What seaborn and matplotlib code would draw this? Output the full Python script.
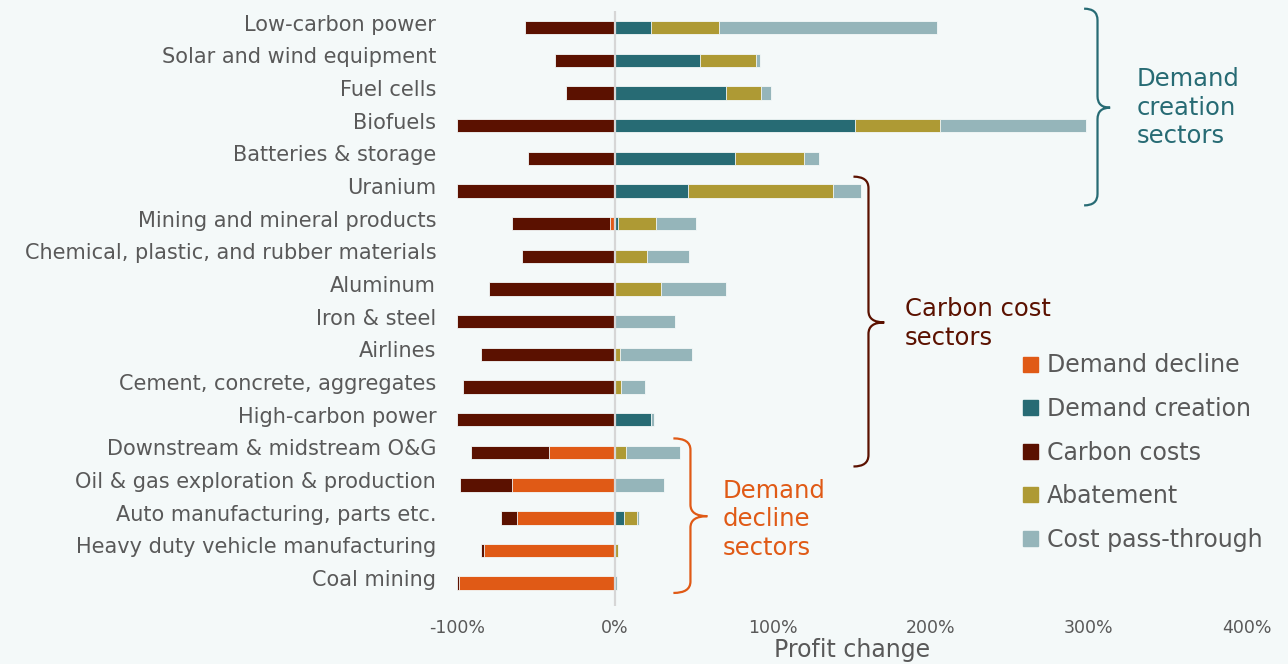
import numpy as np
import pandas as pd
import matplotlib
matplotlib.use('Agg')
import matplotlib.pyplot as plt
import matplotlib.transforms as mtransforms
import seaborn as sns
from matplotlib.path import Path
from matplotlib.patches import PathPatch, Patch

# data (profit change in %)
sectors = ['Low-carbon power', 'Solar and wind equipment', 'Fuel cells', 'Biofuels',
           'Batteries & storage', 'Uranium', 'Mining and mineral products',
           'Chemical, plastic, and rubber materials', 'Aluminum', 'Iron & steel',
           'Airlines', 'Cement, concrete, aggregates', 'High-carbon power',
           'Downstream & midstream O&G', 'Oil & gas exploration & production',
           'Auto manufacturing, parts etc.', 'Heavy duty vehicle manufacturing',
           'Coal mining']
demand_decline = [0, 0, 0, 0, 0, 0, -3, 0, 0, 0, 0, 0, 0, -42, -65, -62, -83, -99]
carbon_costs = [-57, -38, -31, -100, -55, -100, -62, -59, -80, -100, -85, -96, -100, -49, -33, -10, -2, -1]
demand_creation = [23, 54, 70, 152, 76, 46, 2, 0, 0, 0, 0, 0, 23, 0, 0, 6, 0, 0]
abatement = [43, 35, 22.5, 54, 44, 92, 24, 20, 29, 0, 3, 4, 0, 7, 0, 8, 2, 0]
pass_through = [138, 3, 6.5, 92, 9, 18, 25, 27, 41, 38, 46, 15, 2, 34, 31, 1.5, 0, 1]
tick_vals = [-100, 0, 100, 200, 300, 400]

C_DD = '#e05a16'
C_DC = '#276b74'
C_CC = '#5b1100'
C_AB = '#ae9a34'
C_PT = '#95b5ba'
TXT = '#595959'
BG = '#f4f9f9'

sns.set_theme(style='white')
plt.rcParams['font.family'] = ['DejaVu Sans']

df = pd.DataFrame({'sector': sectors, 'dd': demand_decline, 'cc': carbon_costs,
                   'dc': demand_creation, 'ab': abatement, 'pt': pass_through})
df['neg_total'] = df['dd'] + df['cc']
df['pos_dc_ab'] = df['dc'] + df['ab']
df['pos_total'] = df['pos_dc_ab'] + df['pt']

fig = plt.figure(figsize=(12.88, 6.64), dpi=100, facecolor=BG)
ax = fig.add_axes([0.3548, 0.0873, 0.968 - 0.3548, 0.983 - 0.0873])
ax.set_facecolor(BG)

bw = 0.41
# layered stacking: draw totals first, then inner segments on top
for col, c in [('neg_total', C_CC), ('dd', C_DD), ('pos_total', C_PT),
               ('pos_dc_ab', C_AB), ('dc', C_DC)]:
    sns.barplot(data=df, x=col, y='sector', order=sectors, color=c, width=bw,
                orient='h', saturation=1, edgecolor=BG, linewidth=0.6, ax=ax)

ax.axvline(0, color='#d6d6d6', lw=1.6, zorder=5)

ax.set_xlim(-100, 400)
ax.set_ylim(17.7, -0.5)
ax.set_xticks(tick_vals)
ax.set_xticklabels([f'{v}%' for v in tick_vals], color=TXT, fontsize=12.5)
ax.tick_params(axis='x', length=0, pad=9)
ax.tick_params(axis='y', length=0, pad=15, labelsize=15, labelcolor=TXT)
ax.set_ylabel('')
ax.set_xlabel('Profit change', fontsize=17, color=TXT, labelpad=1)
for s in ax.spines.values():
    s.set_visible(False)

# sector labels sit a little above the bar centres
shift = mtransforms.ScaledTranslation(0, 5 / 100, fig.dpi_scale_trans)
for lab in ax.get_yticklabels():
    lab.set_transform(lab.get_transform() + shift)


def brace(ax, x0, x1, x2, ytop, ymid, ybot, color, r=0.35):
    verts = [(x0, ytop), (x1, ytop), (x1, ytop + r),
             (x1, ymid - r),
             (x1, ymid), (x2, ymid),
             (x1, ymid), (x1, ymid + r),
             (x1, ybot - r),
             (x1, ybot), (x0, ybot)]
    codes = [Path.MOVETO, Path.CURVE3, Path.CURVE3, Path.LINETO,
             Path.CURVE3, Path.CURVE3, Path.CURVE3, Path.CURVE3,
             Path.LINETO, Path.CURVE3, Path.CURVE3]
    ax.add_patch(PathPatch(Path(verts, codes), fill=False, edgecolor=color,
                           lw=1.6, clip_on=False, zorder=6))


brace(ax, 297, 305.5, 313.5, -0.58, 2.45, 5.44, C_DC)
brace(ax, 151, 160.5, 170.5, 4.56, 9.02, 13.43, C_CC)
brace(ax, 37, 47.8, 58.5, 12.57, 14.95, 17.3, C_DD)

ax.text(330, 2.45, 'Demand\ncreation\nsectors', color=C_DC, fontsize=17.5,
        va='center', ha='left', linespacing=1.25)
ax.text(183.5, 9.05, 'Carbon cost\nsectors', color=C_CC, fontsize=17.5,
        va='center', ha='left', linespacing=1.25)
ax.text(68, 15.05, 'Demand\ndecline\nsectors', color=C_DD, fontsize=17.5,
        va='center', ha='left', linespacing=1.25)

handles = [Patch(color=C_DD, label='Demand decline'),
           Patch(color=C_DC, label='Demand creation'),
           Patch(color=C_CC, label='Carbon costs'),
           Patch(color=C_AB, label='Abatement'),
           Patch(color=C_PT, label='Cost pass-through')]
leg = fig.legend(handles=handles, loc='upper left', bbox_to_anchor=(1014 / 1288, 1 - 344 / 664),
                 frameon=False, fontsize=17, handlelength=0.6, handleheight=0.6,
                 handletextpad=0.4, labelspacing=0.83, borderaxespad=0)
for t in leg.get_texts():
    t.set_color(TXT)

fig.savefig('out.png', dpi=100, facecolor=BG)
